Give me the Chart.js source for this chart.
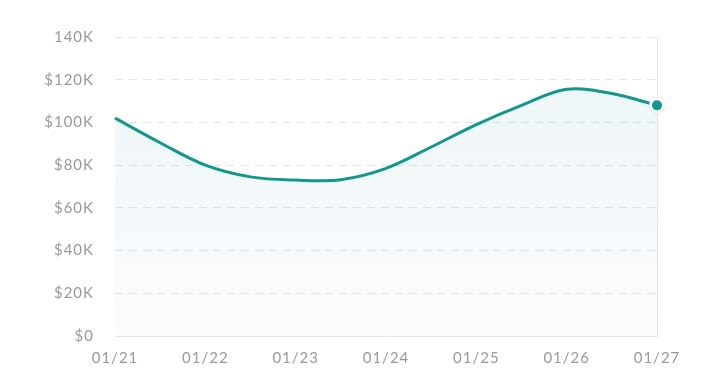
<!DOCTYPE html>
<html>
<head>
<meta charset="utf-8">
<script src="https://cdn.jsdelivr.net/npm/chart.js@4/dist/chart.umd.min.js"></script>
<style>
    html, body { margin: 0; padding: 0; background: #ffffff; }
    #wrap { width: 720px; height: 371px; }
</style>
</head>
<body>
<div id="wrap"><canvas id="lineChart"></canvas></div>
<script>
// Day labels on the x axis
const dayLabels = ['01/21', '01/22', '01/23', '01/24', '01/25', '01/26', '01/27'];

// Sample positions (in days from 01/21) and values
const samplePos = [0, 0.5, 1, 1.5, 2, 2.5, 3, 3.5, 4, 4.5, 5, 5.5, 6];
const sampleValues = [102000, 90500, 80000, 74500, 73000, 73200, 78500, 88500, 99000, 108000, 115500, 113500, 108000];

// Y axis tick values
const yTicks = [0, 20000, 40000, 60000, 80000, 100000, 120000, 140000];

const lineColor = '#13968e';
const tickColor = '#999999';
const gridColor = '#e3e4e8';

const points = samplePos.map((p, i) => ({ x: p, y: sampleValues[i] }));

function areaGradient(context) {
    const chart = context.chart;
    const area = chart.chartArea;
    if (!area) return 'rgba(19,150,142,0.06)';
    const g = chart.ctx.createLinearGradient(0, area.top, 0, area.bottom);
    g.addColorStop(0, 'rgba(19,150,142,0.09)');
    g.addColorStop(1, 'rgba(120,140,200,0.03)');
    return g;
}

function tickLabel(v) {
    if (v === 0) return '$0';
    if (v === 140000) return '140K';
    return '$' + (v / 1000) + 'K';
}

// Wider letter spacing for the tick labels
const spacingPlugin = {
    id: 'spacing',
    beforeDraw: (chart) => { chart.ctx.letterSpacing = '1px'; }
};

// Soft shadow behind the end point
const pointShadow = {
    id: 'pointShadow',
    beforeDatasetDraw: (chart) => {
        const pt = chart.getDatasetMeta(0).data[points.length - 1];
        if (!pt) return;
        const c = chart.ctx;
        c.save();
        c.beginPath();
        c.arc(pt.x, pt.y, 9, 0, Math.PI * 2);
        c.fillStyle = 'rgba(60,70,90,0.08)';
        c.fill();
        c.restore();
    }
};

const ctx = document.getElementById('lineChart').getContext('2d');
const lineChart = new Chart(ctx, {
    type: 'line',
    plugins: [spacingPlugin, pointShadow],
    data: {
        datasets: [{
            data: points,
            borderColor: lineColor,
            borderWidth: 3,
            fill: 'origin',
            backgroundColor: areaGradient,
            tension: 0.35,
            clip: false,
            pointRadius: (c) => c.dataIndex === points.length - 1 ? 6.5 : 0,
            pointBackgroundColor: lineColor,
            pointBorderColor: '#ffffff',
            pointBorderWidth: 3,
            pointHoverRadius: 6.5
        }]
    },
    options: {
        responsive: true,
        maintainAspectRatio: false,
        animation: false,
        layout: { padding: { left: 0, right: 63, top: 37, bottom: 0 } },
        plugins: {
            legend: { display: false },
            tooltip: { enabled: false }
        },
        scales: {
            x: {
                type: 'linear',
                min: 0,
                max: dayLabels.length - 1,
                afterBuildTicks: (scale) => {
                    scale.ticks = dayLabels.map((d, i) => ({ value: i }));
                },
                afterFit: (scale) => { scale.height = 35; },
                ticks: {
                    color: tickColor,
                    font: { family: 'Lato', size: 15 },
                    padding: 13,
                    maxRotation: 0,
                    callback: (v) => dayLabels[v]
                },
                grid: {
                    drawTicks: false,
                    color: (c) => c.index === dayLabels.length - 1 ? gridColor : 'rgba(0,0,0,0)'
                },
                border: { display: true, color: gridColor, width: 1 }
            },
            y: {
                min: 0,
                max: 140000,
                afterBuildTicks: (scale) => {
                    scale.ticks = yTicks.map(v => ({ value: v }));
                },
                afterFit: (scale) => { scale.width = 115; },
                ticks: {
                    color: tickColor,
                    font: { family: 'Lato', size: 15 },
                    padding: 21,
                    callback: tickLabel
                },
                grid: {
                    drawTicks: false,
                    color: (c) => c.tick && c.tick.value === 0 ? 'rgba(0,0,0,0)' : gridColor
                },
                border: { display: false, dash: [8, 6] }
            }
        }
    }
});
</script>
</body>
</html>
